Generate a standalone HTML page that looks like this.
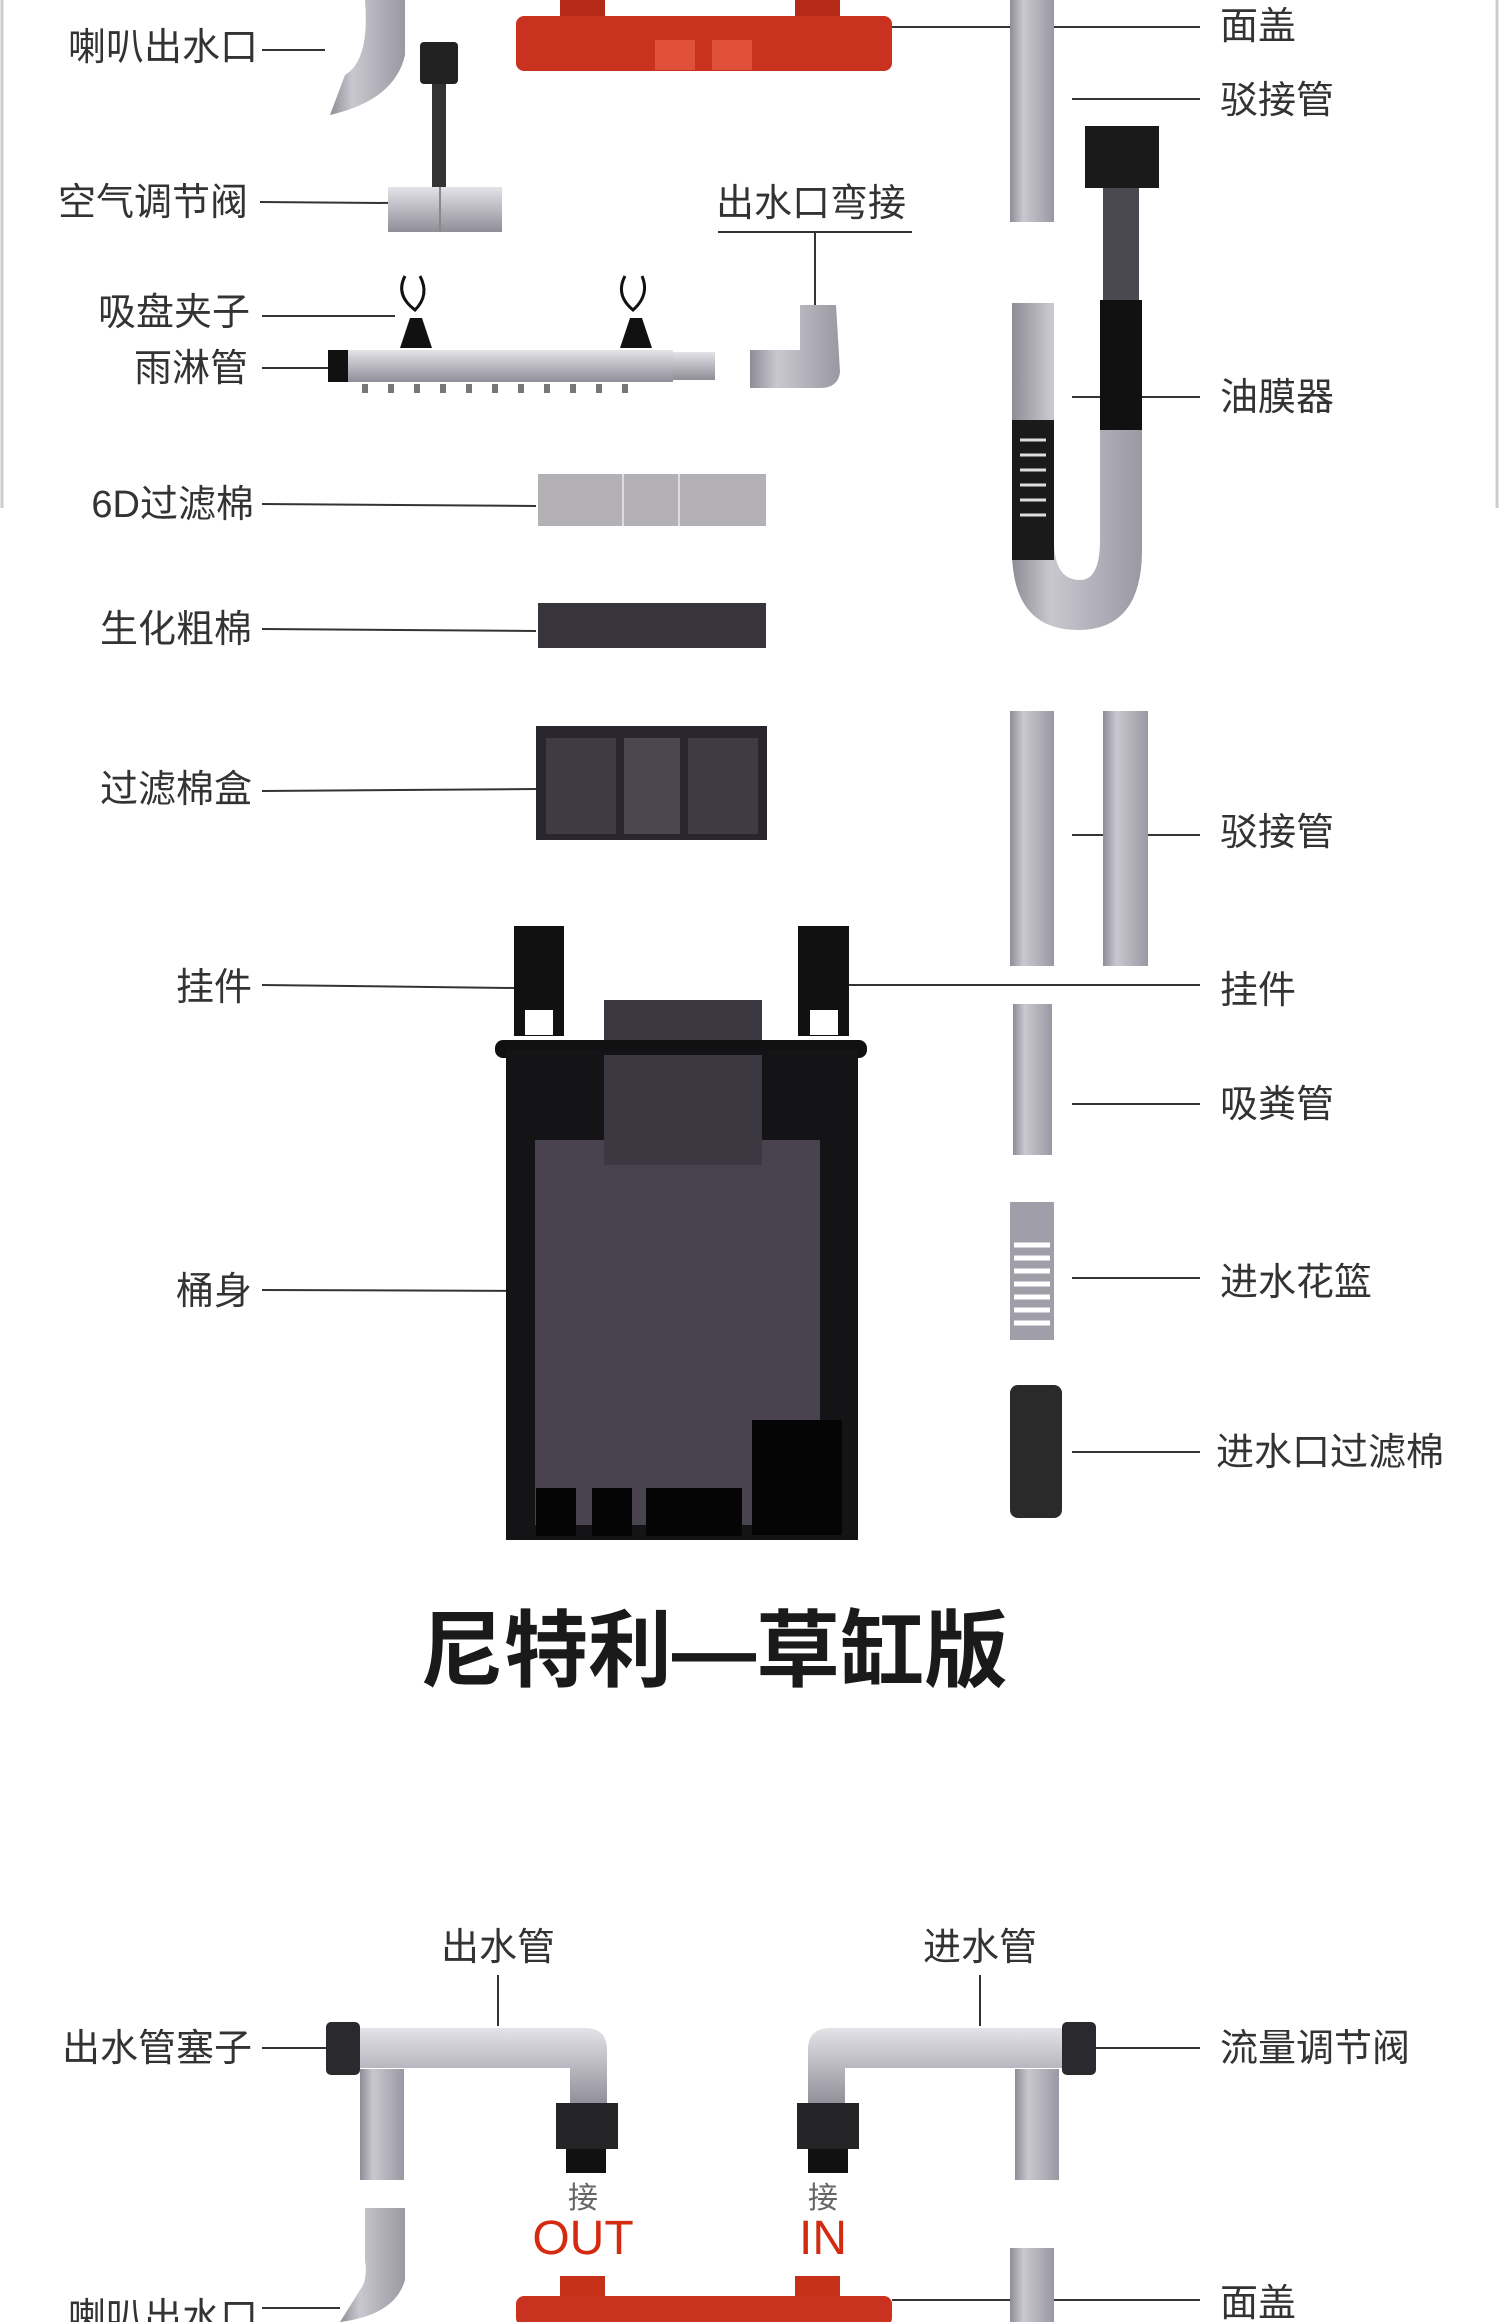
<!DOCTYPE html>
<html><head><meta charset="utf-8"><style>
html,body{margin:0;padding:0;background:#fff}
svg{display:block}
text{font-family:"Liberation Sans","Noto Sans CJK SC",sans-serif;fill:#333;font-size:38px}
</style></head><body>
<svg width="1500" height="2322" viewBox="0 0 1500 2322" xmlns="http://www.w3.org/2000/svg">
<defs>
<linearGradient id="tube" x1="0" x2="1" y1="0" y2="0"><stop offset="0" stop-color="#8e8c96"/><stop offset=".3" stop-color="#c9c7cf"/><stop offset="1" stop-color="#9a98a2"/></linearGradient>
<linearGradient id="tubeh" x1="0" x2="0" y1="0" y2="1"><stop offset="0" stop-color="#e4e3e8"/><stop offset=".4" stop-color="#c2c0c8"/><stop offset="1" stop-color="#8f8d97"/></linearGradient>
</defs>
<rect width="1500" height="2322" fill="#fff"/>
<line x1="2" y1="0" x2="2" y2="508" stroke="#ccc" stroke-width="3"/>
<line x1="1497" y1="0" x2="1497" y2="508" stroke="#ccc" stroke-width="3"/>

<g stroke="#333" stroke-width="2" fill="none">
<line x1="262" y1="50" x2="325" y2="50"/>
<line x1="260" y1="202" x2="390" y2="203"/>
<line x1="262" y1="316" x2="395" y2="316"/>
<line x1="262" y1="368" x2="328" y2="368"/>
<line x1="262" y1="504" x2="536" y2="506"/>
<line x1="262" y1="629" x2="536" y2="631"/>
<line x1="262" y1="791" x2="536" y2="789"/>
<line x1="262" y1="985" x2="514" y2="988"/>
<line x1="262" y1="1290" x2="537" y2="1291"/>
<line x1="892" y1="27" x2="1200" y2="27"/>
<line x1="1072" y1="99" x2="1200" y2="99"/>
<line x1="1072" y1="397" x2="1200" y2="397"/>
<line x1="1072" y1="835" x2="1200" y2="835"/>
<line x1="849" y1="985" x2="1200" y2="985"/>
<line x1="1072" y1="1104" x2="1200" y2="1104"/>
<line x1="1072" y1="1278" x2="1200" y2="1278"/>
<line x1="1072" y1="1452" x2="1200" y2="1452"/>
<line x1="718" y1="232" x2="912" y2="232"/>
<line x1="815" y1="232" x2="815" y2="305"/>
<line x1="498" y1="1975" x2="498" y2="2026"/>
<line x1="980" y1="1975" x2="980" y2="2026"/>
<line x1="262" y1="2048" x2="330" y2="2048"/>
<line x1="1096" y1="2048" x2="1200" y2="2048"/>
<line x1="262" y1="2308" x2="340" y2="2308"/>
<line x1="892" y1="2300" x2="1200" y2="2300"/>
</g>

<g text-anchor="end">
<text x="258" y="60">喇叭出水口</text>
<text x="248" y="215">空气调节阀</text>
<text x="250" y="325">吸盘夹子</text>
<text x="248" y="381">雨淋管</text>
<text x="254" y="517">6D过滤棉</text>
<text x="252" y="642">生化粗棉</text>
<text x="252" y="802">过滤棉盒</text>
<text x="252" y="1000">挂件</text>
<text x="252" y="1304">桶身</text>
<text x="252" y="2061">出水管塞子</text>
<text x="258" y="2330">喇叭出水口</text>
</g>
<g>
<text x="716" y="216">出水口弯接</text>
<text x="1220" y="39">面盖</text>
<text x="1220" y="113">驳接管</text>
<text x="1220" y="410">油膜器</text>
<text x="1220" y="845">驳接管</text>
<text x="1220" y="1003">挂件</text>
<text x="1220" y="1117">吸粪管</text>
<text x="1220" y="1295">进水花篮</text>
<text x="1216" y="1465">进水口过滤棉</text>
<text x="1220" y="2061">流量调节阀</text>
<text x="1220" y="2316">面盖</text>
<text x="498" y="1960" text-anchor="middle">出水管</text>
<text x="980" y="1960" text-anchor="middle">进水管</text>
<text x="583" y="2208" text-anchor="middle" style="font-size:30px;fill:#666">接</text>
<text x="823" y="2208" text-anchor="middle" style="font-size:30px;fill:#666">接</text>
<text x="583" y="2254" text-anchor="middle" style="font-size:48px;fill:#d42a10">OUT</text>
<text x="823" y="2254" text-anchor="middle" style="font-size:48px;fill:#d42a10">IN</text>
<text x="714" y="1680" text-anchor="middle" style="font-size:84px;font-weight:bold;fill:#1a1a1a">尼特利—草缸版</text>
</g>

<path d="M365 0 L405 0 L405 55 Q395 100 330 115 L345 75 Q370 60 365 0Z" fill="url(#tube)"/>
<rect x="560" y="0" width="45" height="20" fill="#b52a17"/>
<rect x="795" y="0" width="45" height="20" fill="#b52a17"/>
<rect x="516" y="16" width="376" height="55" rx="8" fill="#c8321e"/>
<rect x="655" y="40" width="40" height="30" fill="#e0503a"/>
<rect x="712" y="40" width="40" height="30" fill="#e0503a"/>
<rect x="420" y="42" width="38" height="42" rx="4" fill="#222"/>
<rect x="432" y="84" width="14" height="110" fill="#333"/>
<rect x="388" y="187" width="114" height="45" fill="url(#tubeh)"/>
<line x1="440" y1="187" x2="440" y2="232" stroke="#888" stroke-width="2"/>
<g stroke="#111" stroke-width="3" fill="none">
<path d="M405 276 Q395 295 415 310 Q430 295 420 276"/>
<path d="M625 276 Q615 295 633 310 Q650 295 642 276"/>
</g>
<path d="M400 348 L410 318 L422 318 L432 348Z" fill="#111"/>
<path d="M620 348 L630 318 L642 318 L652 348Z" fill="#111"/>
<rect x="328" y="350" width="345" height="32" fill="url(#tubeh)"/>
<rect x="673" y="352" width="42" height="28" fill="url(#tubeh)"/>
<rect x="328" y="350" width="20" height="32" fill="#111"/>
<g fill="#777">
<rect x="362" y="384" width="6" height="9"/><rect x="388" y="384" width="6" height="9"/><rect x="414" y="384" width="6" height="9"/><rect x="440" y="384" width="6" height="9"/><rect x="466" y="384" width="6" height="9"/><rect x="492" y="384" width="6" height="9"/><rect x="518" y="384" width="6" height="9"/><rect x="544" y="384" width="6" height="9"/><rect x="570" y="384" width="6" height="9"/><rect x="596" y="384" width="6" height="9"/><rect x="622" y="384" width="6" height="9"/>
</g>
<path d="M800 305 L836 305 L840 372 Q838 388 820 388 L750 388 L750 350 L800 350Z" fill="url(#tube)"/>
<rect x="538" y="474" width="228" height="52" fill="#b3b1b6"/>
<line x1="623" y1="474" x2="623" y2="526" stroke="#ddd" stroke-width="2"/>
<line x1="679" y1="474" x2="679" y2="526" stroke="#ddd" stroke-width="2"/>
<rect x="538" y="603" width="228" height="45" fill="#37343c"/>
<rect x="536" y="726" width="231" height="114" fill="#29272d"/>
<rect x="546" y="738" width="70" height="96" fill="#3e3b44"/>
<rect x="624" y="738" width="56" height="96" fill="#4a4751"/>
<rect x="688" y="738" width="70" height="96" fill="#3e3b44"/>
<rect x="1010" y="0" width="44" height="222" fill="url(#tube)"/>
<rect x="1085" y="126" width="74" height="62" fill="#1a1a1a"/>
<rect x="1103" y="188" width="36" height="245" fill="#4a4850"/>
<rect x="1100" y="300" width="42" height="130" fill="#111"/>
<path d="M1012 303 L1054 303 L1054 540 Q1054 580 1080 580 Q1100 580 1100 540 L1100 430 L1142 430 L1142 550 Q1142 630 1078 630 Q1012 630 1012 550Z" fill="url(#tube)"/>
<rect x="1012" y="420" width="42" height="140" fill="#1a1a1a"/>
<g stroke="#ddd" stroke-width="3"><line x1="1020" y1="440" x2="1046" y2="440"/><line x1="1020" y1="455" x2="1046" y2="455"/><line x1="1020" y1="470" x2="1046" y2="470"/><line x1="1020" y1="485" x2="1046" y2="485"/><line x1="1020" y1="500" x2="1046" y2="500"/><line x1="1020" y1="515" x2="1046" y2="515"/></g>
<rect x="1010" y="711" width="44" height="255" fill="url(#tube)"/>
<rect x="1103" y="711" width="45" height="255" fill="url(#tube)"/>
<rect x="1013" y="1004" width="39" height="151" fill="url(#tube)"/>
<rect x="1010" y="1202" width="44" height="138" fill="#a09ea8"/>
<g stroke="#fff" stroke-width="5"><line x1="1014" y1="1245" x2="1050" y2="1245"/><line x1="1014" y1="1258" x2="1050" y2="1258"/><line x1="1014" y1="1271" x2="1050" y2="1271"/><line x1="1014" y1="1284" x2="1050" y2="1284"/><line x1="1014" y1="1297" x2="1050" y2="1297"/><line x1="1014" y1="1310" x2="1050" y2="1310"/><line x1="1014" y1="1323" x2="1050" y2="1323"/></g>
<rect x="1010" y="1385" width="52" height="133" rx="8" fill="#2a2a2a"/>
<rect x="514" y="926" width="50" height="110" fill="#111"/>
<rect x="798" y="926" width="51" height="110" fill="#111"/>
<rect x="525" y="1010" width="28" height="25" fill="#fff"/>
<rect x="810" y="1010" width="28" height="25" fill="#fff"/>
<rect x="604" y="1000" width="158" height="60" fill="#3a3740"/>
<rect x="495" y="1040" width="372" height="18" rx="8" fill="#111"/>
<rect x="506" y="1050" width="352" height="490" fill="#141416"/>
<rect x="535" y="1140" width="285" height="385" fill="#48434f"/>
<rect x="604" y="1055" width="158" height="110" fill="#3b3842"/>
<rect x="752" y="1420" width="90" height="115" fill="#050505"/>
<rect x="536" y="1488" width="40" height="48" fill="#050505"/>
<rect x="592" y="1488" width="40" height="48" fill="#050505"/>
<rect x="646" y="1488" width="96" height="48" fill="#050505"/>

<path d="M350 2028 L585 2028 Q607 2028 607 2050 L607 2105 L570 2105 L570 2068 L350 2068Z" fill="url(#tubeh)"/>
<rect x="326" y="2022" width="34" height="53" rx="5" fill="#2a2a2e"/>
<rect x="360" y="2069" width="44" height="111" fill="url(#tube)"/>
<rect x="556" y="2103" width="62" height="46" fill="#252528"/>
<rect x="566" y="2149" width="40" height="24" fill="#111"/>
<path d="M1072 2028 L830 2028 Q808 2028 808 2050 L808 2105 L845 2105 L845 2068 L1072 2068Z" fill="url(#tubeh)"/>
<rect x="1062" y="2022" width="34" height="53" rx="5" fill="#2a2a2e"/>
<rect x="1015" y="2069" width="44" height="111" fill="url(#tube)"/>
<rect x="797" y="2103" width="62" height="46" fill="#252528"/>
<rect x="808" y="2149" width="40" height="24" fill="#111"/>
<path d="M365 2208 L405 2208 L405 2280 Q395 2315 340 2322 L360 2290 Q368 2280 365 2260Z" fill="url(#tube)"/>
<rect x="560" y="2276" width="45" height="24" fill="#c53018"/>
<rect x="795" y="2276" width="45" height="24" fill="#c53018"/>
<rect x="516" y="2296" width="376" height="30" rx="8" fill="#c8321e"/>
<rect x="1010" y="2248" width="44" height="74" fill="url(#tube)"/>
</svg>
</body></html>
